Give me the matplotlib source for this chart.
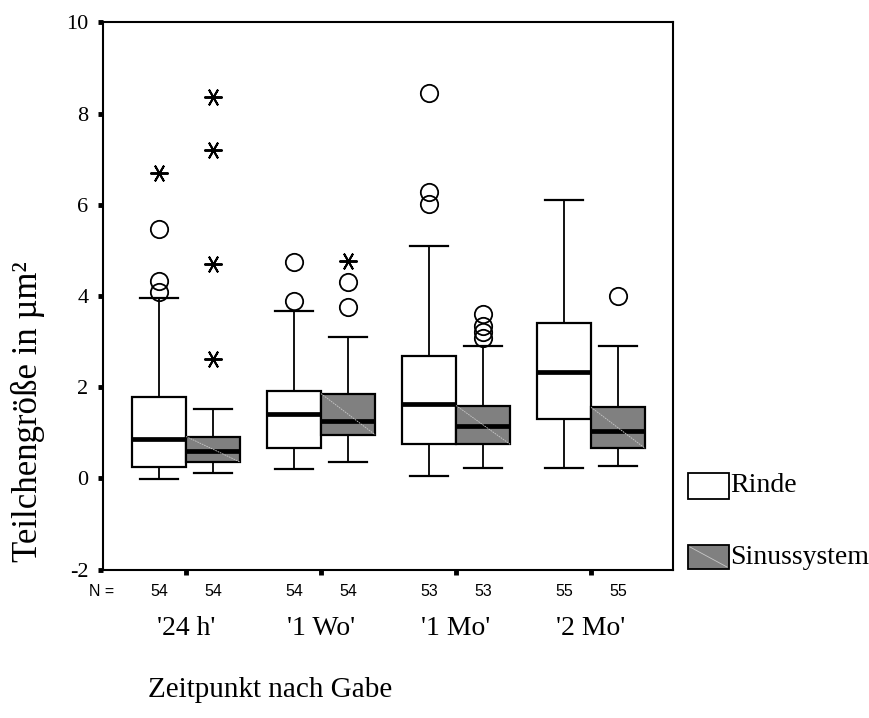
import numpy as np
import matplotlib
matplotlib.use("Agg")
import matplotlib.pyplot as plt
from matplotlib.patches import Rectangle
from matplotlib.lines import Line2D

# Zeitpunkte und Fallzahlen
groups = ["'24 h'", "'1 Wo'", "'1 Mo'", "'2 Mo'"]
n_rinde = [54, 54, 53, 55]
n_sinus = [54, 54, 53, 55]

# Rinde: Whisker unten, Q1, Median, Q3, Whisker oben
rinde_lo = [-0.02, 0.20, 0.05, 0.24]
rinde_q1 = [0.26, 0.66, 0.75, 1.31]
rinde_med = [0.86, 1.42, 1.64, 2.33]
rinde_q3 = [1.78, 1.91, 2.68, 3.41]
rinde_hi = [3.95, 3.67, 5.09, 6.10]
rinde_out = [[5.48, 4.34, 4.08], [4.74, 3.89], [8.46, 6.29, 6.01], []]
rinde_ext = [[6.69], [], [], []]

# Sinussystem
sinus_lo = [0.11, 0.36, 0.24, 0.27]
sinus_q1 = [0.36, 0.96, 0.75, 0.66]
sinus_med = [0.60, 1.25, 1.16, 1.04]
sinus_q3 = [0.92, 1.86, 1.60, 1.56]
sinus_hi = [1.52, 3.11, 2.90, 2.90]
sinus_out = [[], [4.31, 3.76], [3.60, 3.35, 3.21, 3.08], [4.01]]
sinus_ext = [[8.36, 7.21, 4.71, 2.63], [4.76], [], []]

serif = "Liberation Serif"
sans = "Liberation Sans"
grey = "#808080"

fig = plt.figure(figsize=(8.69, 7.18), dpi=100)
ax = fig.add_axes([0.1185, 0.2066, 0.656, 0.7621])

pos = np.arange(1, len(groups) + 1)
w = 0.4


def stats(lo, q1, med, q3, hi, out):
    return [dict(whislo=a, q1=b, med=c, q3=d, whishi=e, fliers=f)
            for a, b, c, d, e, f in zip(lo, q1, med, q3, hi, out)]


def draw(st, x, color):
    ax.bxp(st, positions=x, widths=w, capwidths=0.28, patch_artist=True,
           manage_ticks=False,
           boxprops=dict(facecolor=color, edgecolor="black", linewidth=1.6),
           medianprops=dict(color="black", linewidth=3.4, solid_capstyle="butt"),
           whiskerprops=dict(color="black", linewidth=1.3),
           capprops=dict(color="black", linewidth=1.6),
           flierprops=dict(marker="o", markersize=12.5, markerfacecolor="none",
                           markeredgecolor="black", markeredgewidth=1.3))


draw(stats(rinde_lo, rinde_q1, rinde_med, rinde_q3, rinde_hi, rinde_out),
     pos - w / 2, "white")
draw(stats(sinus_lo, sinus_q1, sinus_med, sinus_q3, sinus_hi, sinus_out),
     pos + w / 2, grey)

# feine helle Diagonale im grauen Fuellmuster
for x, q1, q3 in zip(pos + w / 2, sinus_q1, sinus_q3):
    ax.plot([x - w / 2, x + w / 2], [q3, q1], color="#c8c8c8", lw=0.6,
            ls=(0, (2, 1)), zorder=3)

# Extremwerte als Sternchen
star = (6, 2, 90)
for x, vals in zip(pos - w / 2, rinde_ext):
    ax.plot([x] * len(vals), vals, ls="none", marker=star, markersize=13,
            color="black", markeredgewidth=1.4)
for x, vals in zip(pos + w / 2, sinus_ext):
    ax.plot([x] * len(vals), vals, ls="none", marker=star, markersize=13,
            color="black", markeredgewidth=1.4)

ax.set_xlim(0.385, 4.607)
ax.set_ylim(-2, 10)
ax.set_yticks(np.arange(-2, 11, 2))
ax.set_yticklabels([str(v) for v in range(-2, 11, 2)], fontfamily=serif, fontsize=16)
ax.set_xticks(pos)
ax.set_xticklabels([])
ax.tick_params(axis="both", direction="out", length=3.5, width=3.5, pad=7)
for s in ax.spines.values():
    s.set_linewidth(1.5)

# Fallzahlen und Gruppenbeschriftung unter der Achse
tr = ax.get_xaxis_transform()
ax.text(ax.get_xlim()[0] - 0.01, -0.039, "N =", transform=tr, ha="center",
        va="center", fontfamily=sans, fontsize=11.5)
for x, n1, n2 in zip(pos, n_rinde, n_sinus):
    ax.text(x - w / 2, -0.039, str(n1), transform=tr, ha="center", va="center",
            fontfamily=sans, fontsize=11.5)
    ax.text(x + w / 2, -0.039, str(n2), transform=tr, ha="center", va="center",
            fontfamily=sans, fontsize=11.5)
for x, g in zip(pos, groups):
    ax.text(x, -0.108, g, transform=tr, ha="center", va="center",
            fontfamily=serif, fontsize=20)

fig.text(270 / 869, 1 - 690 / 718, "Zeitpunkt nach Gabe", ha="center",
         va="center", fontfamily=serif, fontsize=21)
fig.text(28 / 869, 1 - 412 / 718, "Teilchengröße in µm²", ha="center",
         va="center", rotation=90, fontfamily=serif, fontsize=25)

# Legende
W, H = 869, 718
for (y0, y1), color, label in [((473, 499), "white", "Rinde"),
                                ((545, 569), grey, "Sinussystem")]:
    fig.patches.append(Rectangle((688 / W, 1 - y1 / H), 41 / W, (y1 - y0) / H,
                                 transform=fig.transFigure, facecolor=color,
                                 edgecolor="black", linewidth=1.3))
    if color == grey:
        fig.lines.append(Line2D([690 / W, 727 / W], [1 - (y0 + 2) / H, 1 - (y1 - 2) / H],
                                transform=fig.transFigure, color="#c8c8c8", lw=0.6))
    fig.text(730 / W, 1 - (y0 + y1) / 2 / H, label, ha="left", va="center",
             fontfamily=serif, fontsize=20)

fig.savefig("out.png", dpi=100)
